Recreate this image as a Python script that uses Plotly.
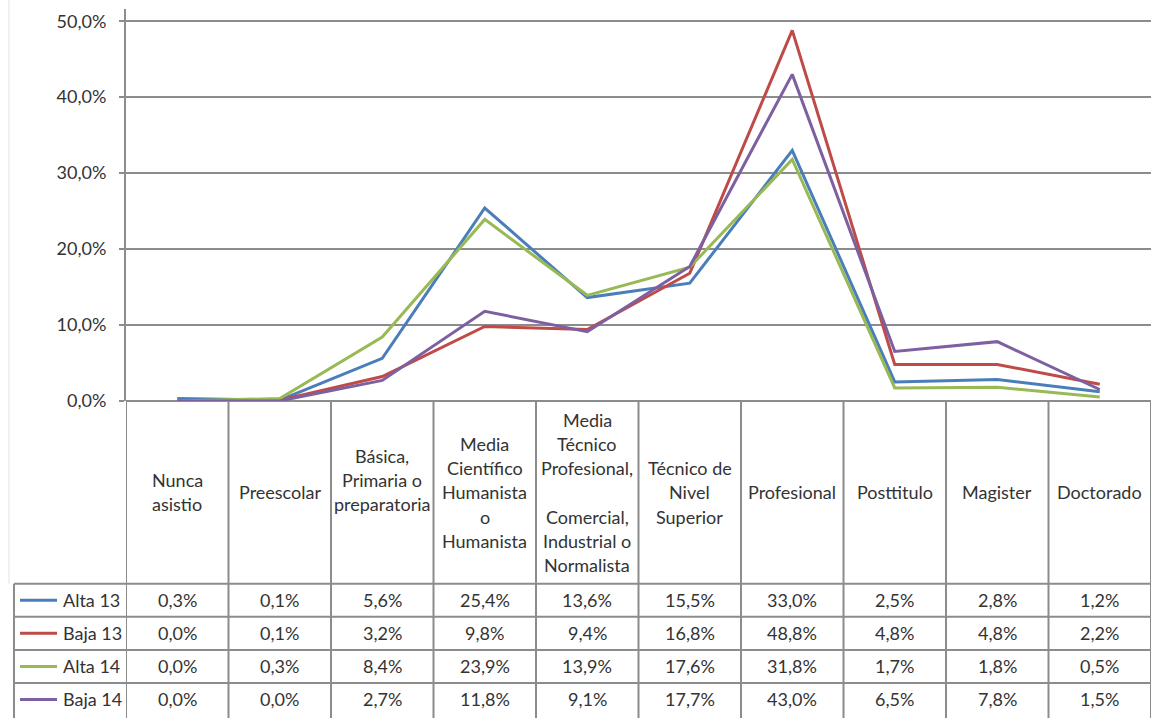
import plotly.graph_objects as go

# ---------------- data ----------------
categories = [
    ["Nunca", "asistio"],
    ["Preescolar"],
    ["Básica,", "Primaria o", "preparatoria", ""],
    ["Media", "Científico", "Humanista", "o", "Humanista"],
    ["Media", "Técnico", "Profesional,", "", "Comercial,", "Industrial o", "Normalista"],
    ["Técnico de", "Nivel", "Superior"],
    ["Profesional"],
    ["Posttitulo"],
    ["Magister"],
    ["Doctorado"],
]
series_names = ["Alta 13", "Baja 13", "Alta 14", "Baja 14"]
alta13 = [0.3, 0.1, 5.6, 25.4, 13.6, 15.5, 33.0, 2.5, 2.8, 1.2]
baja13 = [0.0, 0.1, 3.2, 9.8, 9.4, 16.8, 48.8, 4.8, 4.8, 2.2]
alta14 = [0.0, 0.3, 8.4, 23.9, 13.9, 17.6, 31.8, 1.7, 1.8, 0.5]
baja14 = [0.0, 0.0, 2.7, 11.8, 9.1, 17.7, 43.0, 6.5, 7.8, 1.5]
y_ticks = [0, 10, 20, 30, 40, 50]

# ---------------- styles ----------------
W, H = 1156, 723
colors = ["#4a7ebb", "#be4b48", "#98b954", "#7d60a0"]
grid_col = "#8c8c8c"
txt_col = "#333333"
FONT = "Lato"
FS = 18

plot_left, plot_right = 126, 1151
y0_px, y50_px, ytop_px = 406.5, 21.5, 9
px_per_pct = (y0_px - y50_px) / 50.0
ymax = (y0_px - ytop_px) / px_per_pct / 100.0

header_top, header_bottom = y0_px, 592
row_h = 33.5
table_left = 14
line_gap = 24.5


def py(p):
    return 1 - p / H


def px(p):
    return p / W


all_series = [alta13, baja13, alta14, baja14]
n = len(categories)
xs = list(range(n))

fig = go.Figure()
for name, vals, c in zip(series_names, all_series, colors):
    fig.add_trace(go.Scatter(
        x=xs, y=[v / 100 for v in vals], mode="lines", name=name,
        line=dict(color=c, width=3), showlegend=False, hoverinfo="skip"))

shapes = []
annotations = []

# faint left border of chart area
shapes.append(dict(type="line", xref="paper", yref="paper",
                   x0=px(9), x1=px(9), y0=py(0), y1=py(header_bottom),
                   line=dict(color="#e2e2e2", width=1)))

# table vertical lines at column boundaries
for k in range(n + 1):
    shapes.append(dict(type="line", xref="x", yref="paper",
                       x0=k - 0.5, x1=k - 0.5, y0=py(y0_px), y1=py(H + 5),
                       line=dict(color=grid_col, width=2)))
# left border of data rows
shapes.append(dict(type="line", xref="paper", yref="paper",
                   x0=px(table_left), x1=px(table_left),
                   y0=py(header_bottom), y1=py(H + 5),
                   line=dict(color=grid_col, width=2)))
# horizontal row lines
for r in range(len(series_names)):
    yy = header_bottom + r * row_h
    shapes.append(dict(type="line", xref="paper", yref="paper",
                       x0=px(table_left), x1=px(plot_right),
                       y0=py(yy), y1=py(yy),
                       line=dict(color=grid_col, width=2)))

# header labels
header_mid = (header_top + header_bottom) / 2
for i, lines in enumerate(categories):
    m = len(lines)
    for j, t in enumerate(lines):
        if not t:
            continue
        yy = header_mid + (j - (m - 1) / 2) * line_gap
        annotations.append(dict(x=i, xref="x", y=py(yy), yref="paper",
                                text=t, showarrow=False, xanchor="center",
                                yanchor="middle",
                                font=dict(family=FONT, size=FS, color=txt_col)))

# data rows
for r, (name, vals, c) in enumerate(zip(series_names, all_series, colors)):
    yc = header_bottom + (r + 0.5) * row_h
    shapes.append(dict(type="line", xref="paper", yref="paper",
                       x0=px(20), x1=px(57), y0=py(yc), y1=py(yc),
                       line=dict(color=c, width=3)))
    annotations.append(dict(x=px(61), xref="paper", y=py(yc), yref="paper",
                            text=name, showarrow=False, xanchor="left",
                            yanchor="middle",
                            font=dict(family=FONT, size=FS, color=txt_col)))
    for i, v in enumerate(vals):
        annotations.append(dict(x=i, xref="x", y=py(yc), yref="paper",
                                text=f"{v:.1f}%".replace(".", ","),
                                showarrow=False, xanchor="center",
                                yanchor="middle",
                                font=dict(family=FONT, size=FS, color=txt_col)))

fig.update_layout(
    width=W, height=H,
    margin=dict(l=0, r=0, t=0, b=0),
    paper_bgcolor="white", plot_bgcolor="white",
    separators=",.",
    font=dict(family=FONT, size=FS, color=txt_col),
    shapes=shapes, annotations=annotations,
    xaxis=dict(domain=[px(plot_left), px(plot_right)], range=[-0.5, n - 0.5],
               showgrid=False, zeroline=False, showline=False,
               showticklabels=False, ticks="", fixedrange=True),
    yaxis=dict(domain=[py(y0_px), py(ytop_px)], range=[0, ymax],
               tickvals=[t / 100 for t in y_ticks], tickformat=".1%",
               showgrid=True, gridcolor=grid_col, gridwidth=2,
               zeroline=True, zerolinecolor=grid_col, zerolinewidth=2,
               showline=True, linecolor=grid_col, linewidth=2,
               ticks="outside", ticklen=5, tickcolor=grid_col, tickwidth=2,
               ticklabelstandoff=9,
               tickfont=dict(family=FONT, size=FS, color=txt_col),
               fixedrange=True),
)

fig.write_html("out.html")
